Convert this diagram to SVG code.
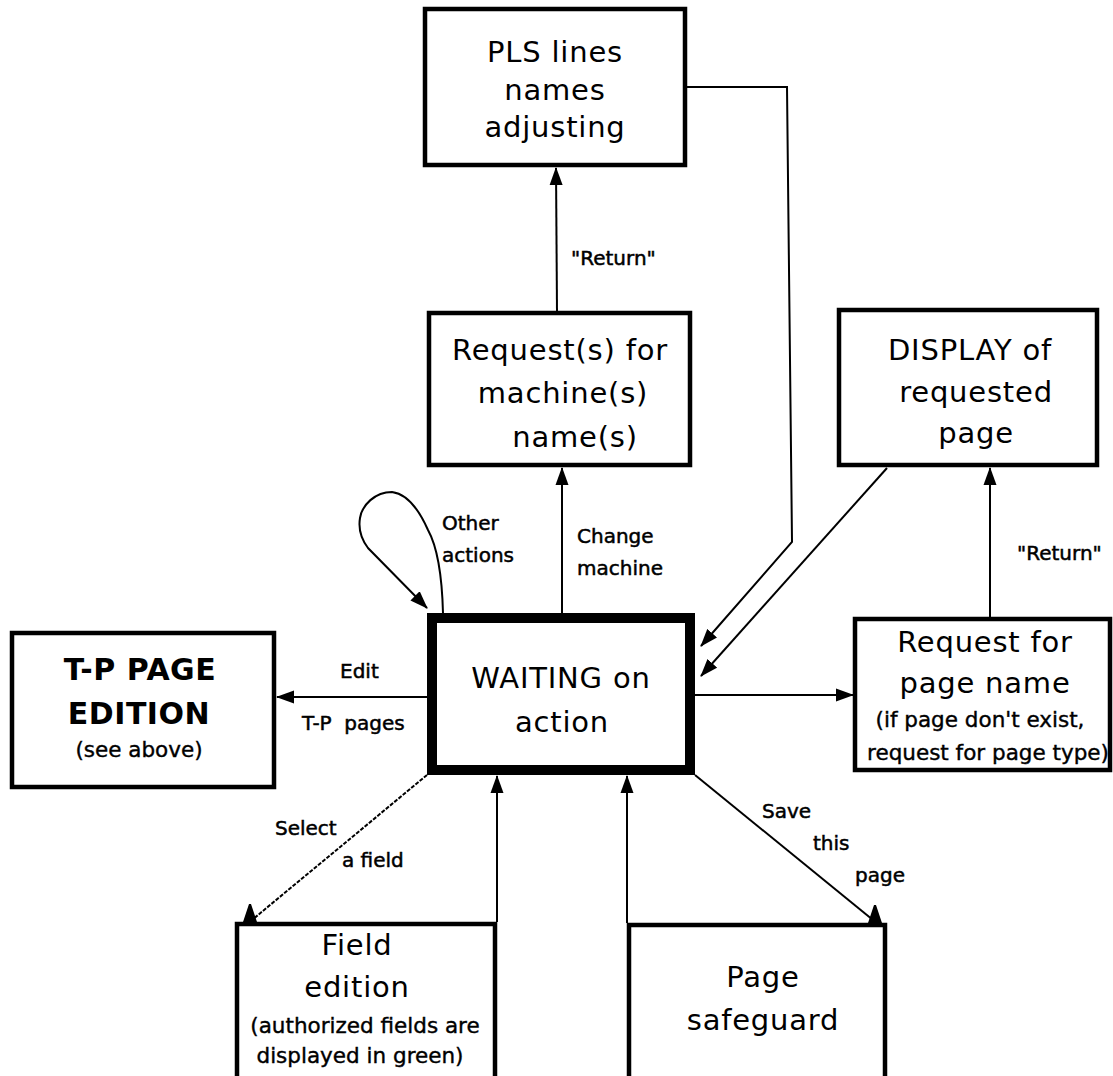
<svg xmlns="http://www.w3.org/2000/svg" width="1113" height="1076" viewBox="0 0 1113 1076">
<style>
.box{fill:#fff;stroke:#000;stroke-width:4.5}
.main{fill:#fff;stroke:#000;stroke-width:10}
.big{font-family:"DejaVu Sans",sans-serif;font-size:29px;letter-spacing:0.8px;text-anchor:middle;fill:#000}
.bold{font-family:"DejaVu Sans",sans-serif;font-size:30px;font-weight:bold;letter-spacing:0.5px;text-anchor:middle;fill:#000}
.small{font-family:"DejaVu Sans",sans-serif;font-size:21.5px;text-anchor:middle;fill:#000;stroke:#000;stroke-width:0.4}
.lbl{font-family:"DejaVu Sans",sans-serif;font-size:20px;fill:#000;stroke:#000;stroke-width:0.5}
.conn{fill:none;stroke:#000;stroke-width:2}
</style>
<defs>
<marker id="ah" viewBox="0 0 18 14" refX="17" refY="7" markerWidth="18" markerHeight="14" markerUnits="userSpaceOnUse" orient="auto">
<path d="M0,0.5 L18,7 L0,13.5 Z" fill="#000"/>
</marker>
<marker id="up" viewBox="0 0 18 14" refX="1" refY="7" markerWidth="18" markerHeight="14" markerUnits="userSpaceOnUse" orient="-90">
<path d="M0,0 L18,6 L18,8 L0,14 Z" fill="#000"/>
</marker>
</defs>
<g id="connectors">
<line class="conn" x1="557" y1="311" x2="556" y2="168" marker-end="url(#ah)"/>
<line class="conn" x1="562" y1="613" x2="562" y2="468" marker-end="url(#ah)"/>
<path class="conn" d="M687,87 L787,87 L792,542 L701,646" marker-end="url(#ah)"/>
<path class="conn" d="M887,468 L701,676" marker-end="url(#ah)"/>
<line class="conn" x1="695" y1="695" x2="853" y2="695" marker-end="url(#ah)"/>
<line class="conn" x1="990" y1="617" x2="990" y2="468" marker-end="url(#ah)"/>
<line class="conn" x1="427" y1="697" x2="277" y2="697" marker-end="url(#ah)"/>
<path class="conn" d="M427,775 L252,920" stroke-dasharray="4,1.5"/>
<line class="conn" x1="497" y1="922" x2="497" y2="776" marker-end="url(#ah)"/>
<line class="conn" x1="627" y1="923" x2="627" y2="776" marker-end="url(#ah)"/>
<path class="conn" d="M695,775 L873,920"/>
<path class="conn" d="M443,613 C442,575 438,548 428,530 C420,512 408,494 392,492 C375,492 362,505 360,518 C358,530 362,540 368,548 L427,608" marker-end="url(#ah)"/>
<line x1="250" y1="922" x2="250" y2="921" stroke="none" marker-end="url(#up)"/>
<line x1="875" y1="923" x2="875" y2="922" stroke="none" marker-end="url(#up)"/>
<text class="lbl" x="571" y="265">"Return"</text>
<text class="lbl" x="442" y="530">Other</text>
<text class="lbl" x="442" y="562">actions</text>
<text class="lbl" x="577" y="543">Change</text>
<text class="lbl" x="577" y="575">machine</text>
<text class="lbl" x="1017" y="560">"Return"</text>
<text class="lbl" x="340" y="678">Edit</text>
<text class="lbl" x="302" y="730" xml:space="preserve">T-P  pages</text>
<text class="lbl" x="275" y="835">Select</text>
<text class="lbl" x="342" y="867">a field</text>
<text class="lbl" x="762" y="818">Save</text>
<text class="lbl" x="813" y="850">this</text>
<text class="lbl" x="855" y="882">page</text>
</g>
<g id="pls">
<rect class="box" x="425" y="9" width="260" height="156"/>
<text class="big" x="555" y="62">PLS lines</text>
<text class="big" x="555" y="100">names</text>
<text class="big" x="555" y="137">adjusting</text>
</g>
<g id="request-machine">
<rect class="box" x="429" y="313" width="261" height="152"/>
<text class="big" x="560" y="360">Request(s) for</text>
<text class="big" x="563" y="403">machine(s)</text>
<text class="big" x="575" y="447">name(s)</text>
</g>
<g id="display">
<rect class="box" x="839" y="310" width="258" height="155"/>
<text class="big" x="970" y="360">DISPLAY of</text>
<text class="big" x="976" y="402">requested</text>
<text class="big" x="976" y="443">page</text>
</g>
<g id="waiting">
<rect class="main" x="432" y="618" width="258" height="152"/>
<text class="big" x="561" y="688">WAITING on</text>
<text class="big" x="562" y="732">action</text>
</g>
<g id="tp-page">
<rect class="box" x="12" y="633" width="262" height="154"/>
<text class="bold" x="140" y="680">T-P PAGE</text>
<text class="bold" x="139" y="724">EDITION</text>
<text class="small" x="139" y="757">(see above)</text>
</g>
<g id="request-page">
<rect class="box" x="855" y="619" width="255" height="151"/>
<text class="big" x="985" y="652">Request for</text>
<text class="big" x="985" y="693">page name</text>
<text class="small" x="980" y="727">(if page don't exist,</text>
<text class="small" x="988" y="760">request for page type)</text>
</g>
<g id="field">
<rect class="box" x="237" y="924" width="258" height="160"/>
<text class="big" x="357" y="955">Field</text>
<text class="big" x="357" y="997">edition</text>
<text class="small" x="365" y="1033">(authorized fields are</text>
<text class="small" x="360" y="1063">displayed in green)</text>
</g>
<g id="safeguard">
<rect class="box" x="629" y="925" width="256" height="160"/>
<text class="big" x="763" y="987">Page</text>
<text class="big" x="763" y="1030">safeguard</text>
</g>
</svg>
